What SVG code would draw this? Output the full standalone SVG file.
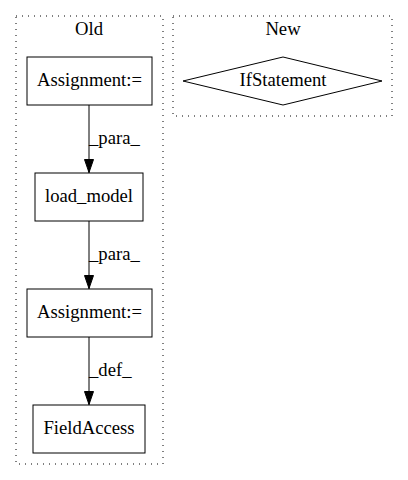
<svg xmlns="http://www.w3.org/2000/svg" width="408" height="480" viewBox="0 0 408 480">
<style>
text{font-family:"Liberation Serif","Times New Roman",serif;font-size:18.67px;fill:#000}
.c{fill:none;stroke:#000;stroke-dasharray:1,5}
.n{fill:#fff;stroke:#000;stroke-width:1}
.e{stroke:#000;stroke-width:1;fill:none}
</style>
<defs>
<marker id="ah" markerWidth="14" markerHeight="10" refX="14" refY="5" orient="auto" markerUnits="userSpaceOnUse" viewBox="0 0 14 10">
<path d="M0.5,0.5 L13.5,5 L0.5,9.5 Z" fill="#000" stroke="#000"/>
</marker>
</defs>
<rect width="408" height="480" fill="#fff"/>
<g id="cluster_old">
<rect class="c" x="16" y="16" width="147" height="448"/>
<text x="89" y="35" text-anchor="middle">Old</text>
</g>
<g id="cluster_new">
<rect class="c" x="173" y="16" width="219" height="100"/>
<text x="283" y="35" text-anchor="middle">New</text>
</g>
<g id="connectors">
<line class="e" x1="89" y1="105" x2="89" y2="173" marker-end="url(#ah)"/>
<text x="89" y="144">_para_</text>
<line class="e" x1="89" y1="221" x2="89" y2="289" marker-end="url(#ah)"/>
<text x="89" y="260">_para_</text>
<line class="e" x1="89" y1="337" x2="89" y2="405" marker-end="url(#ah)"/>
<text x="89" y="376">_def_</text>
</g>
<g id="assign1">
<rect class="n" x="27" y="57" width="125" height="48"/>
<text x="89.5" y="86" text-anchor="middle">Assignment:=</text>
</g>
<g id="load_model">
<rect class="n" x="35" y="173" width="108" height="48"/>
<text x="89" y="202" text-anchor="middle">load_model</text>
</g>
<g id="assign2">
<rect class="n" x="27" y="289" width="125" height="48"/>
<text x="89.5" y="318" text-anchor="middle">Assignment:=</text>
</g>
<g id="fieldaccess">
<rect class="n" x="33" y="405" width="112" height="48"/>
<text x="89" y="434" text-anchor="middle">FieldAccess</text>
</g>
<g id="ifstatement">
<polygon class="n" points="283,57 382,81 283,105 183,81"/>
<text x="283" y="86" text-anchor="middle">IfStatement</text>
</g>
</svg>
